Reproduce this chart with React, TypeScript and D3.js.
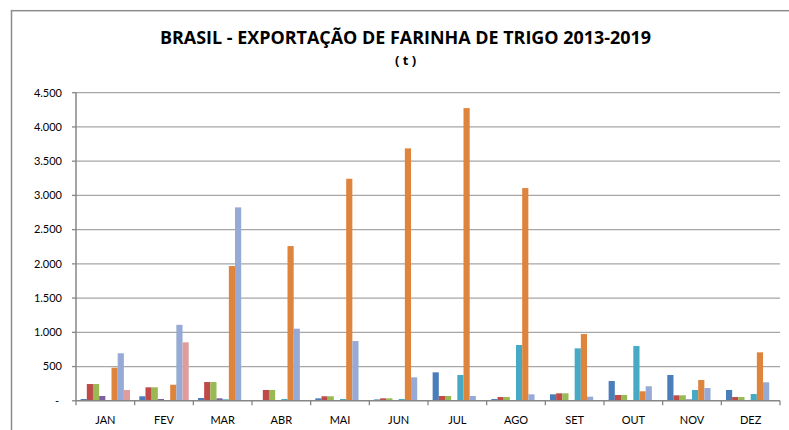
import React from "react";
import * as d3 from "d3";

const months = ["JAN", "FEV", "MAR", "ABR", "MAI", "JUN", "JUL", "AGO", "SET", "OUT", "NOV", "DEZ"];
const seriesNames = ["2012", "2013", "2014", "2015", "2016", "2017", "2018", "2019"];
const s1 = [26, 66, 41, 5, 36, 20, 416, 26, 95, 289, 377, 158];
const s2 = [245, 197, 274, 158, 66, 36, 70, 55, 109, 85, 80, 55];
const s3 = [245, 197, 274, 158, 66, 36, 70, 55, 109, 85, 80, 55];
const s4 = [70, 26, 36, 0, 0, 0, 0, 0, 0, 0, 20, 0];
const s5 = [0, 0, 22, 26, 26, 26, 377, 815, 766, 800, 158, 99];
const s6 = [483, 235, 1968, 2260, 3243, 3687, 4275, 3107, 975, 139, 304, 708];
const s7 = [694, 1110, 2825, 1053, 873, 343, 70, 95, 60, 212, 187, 270];
const s8 = [158, 854, 0, 0, 0, 0, 0, 0, 0, 0, 0, 0];
const yTicks = [0, 500, 1000, 1500, 2000, 2500, 3000, 3500, 4000, 4500];
const colors = ["#4A7EBB", "#BE4B48", "#98B954", "#7D60A0", "#46AAC5", "#DF843D", "#96AAD5", "#DE9C9C"];

const allSeries = [s1, s2, s3, s4, s5, s6, s7, s8];

export default function App() {
  const W = 789, H = 430;
  const left = 76, right = 780, top = 92.7, bottom = 400.8;
  const x = d3.scaleBand<string>().domain(months).range([left, right]).paddingInner(0).paddingOuter(0);
  const y = d3.scaleLinear().domain([0, 4500]).range([bottom, top]);
  const cw = x.bandwidth();
  // gap width 150% of bar width, split on both sides
  const bw = cw / (seriesNames.length + 1.5);
  const off = 0.75 * bw;
  const fmt = (v: number) => (v === 0 ? "-" : d3.format(",")(v).replace(/,/g, "."));
  return (
    <svg width={W} height={H} style={{ position: "absolute", left: 0, top: 0 }} fontFamily="Lato, 'Open Sans', sans-serif">
      <rect x={0} y={0} width={W} height={H} fill="#fff" />
      <rect x={11.5} y={10.7} width={W + 20} height={H + 20} fill="none" stroke="#8C8C8C" strokeWidth={1.5} />
      <text x={405.5} y={44} textAnchor="middle" fontSize={18} fontWeight="bold" fill="#000" textLength={491} lengthAdjust="spacingAndGlyphs" fontFamily="'Open Sans', sans-serif">
        BRASIL - EXPORTAÇÃO DE FARINHA DE TRIGO 2013-2019
      </text>
      <text x={405.5} y={65} textAnchor="middle" fontSize={13} fontWeight="bold" fill="#000" fontFamily="'Open Sans', sans-serif">
        ( t )
      </text>
      {yTicks.map((t) => (
        <g key={t}>
          {t > 0 && <line x1={left} x2={right} y1={y(t)} y2={y(t)} stroke="#A6A6A6" strokeWidth={1.3} />}
          <line x1={72} x2={left} y1={y(t)} y2={y(t)} stroke="#868686" strokeWidth={1.3} />
          <text x={t === 0 ? 59 : 62} y={y(t)} dy="0.35em" textAnchor="end" fontSize={11} fill="#000">
            {fmt(t)}
          </text>
        </g>
      ))}
      {allSeries.map((s, si) =>
        s.map((v, mi) => {
          const x0 = (x(months[mi]) as number) + off + si * bw;
          return v > 0 ? (
            <rect key={`${si}-${mi}`} x={x0} y={y(v)} width={bw} height={bottom - y(v)} fill={colors[si]} />
          ) : null;
        })
      )}
      <line x1={left} x2={left} y1={top} y2={bottom} stroke="#868686" strokeWidth={1.5} />
      <line x1={left} x2={right} y1={bottom} y2={bottom} stroke="#868686" strokeWidth={1.5} />
      {months.concat(["END"]).map((m, i) => {
        const xx = left + i * cw;
        return <line key={m} x1={xx} x2={xx} y1={bottom} y2={bottom + 4.5} stroke="#868686" strokeWidth={1.3} />;
      })}
      {months.map((m) => (
        <text key={m} x={(x(m) as number) + cw / 2} y={420} dy="0.35em" textAnchor="middle" fontSize={11} fill="#000">
          {m}
        </text>
      ))}
    </svg>
  );
}
